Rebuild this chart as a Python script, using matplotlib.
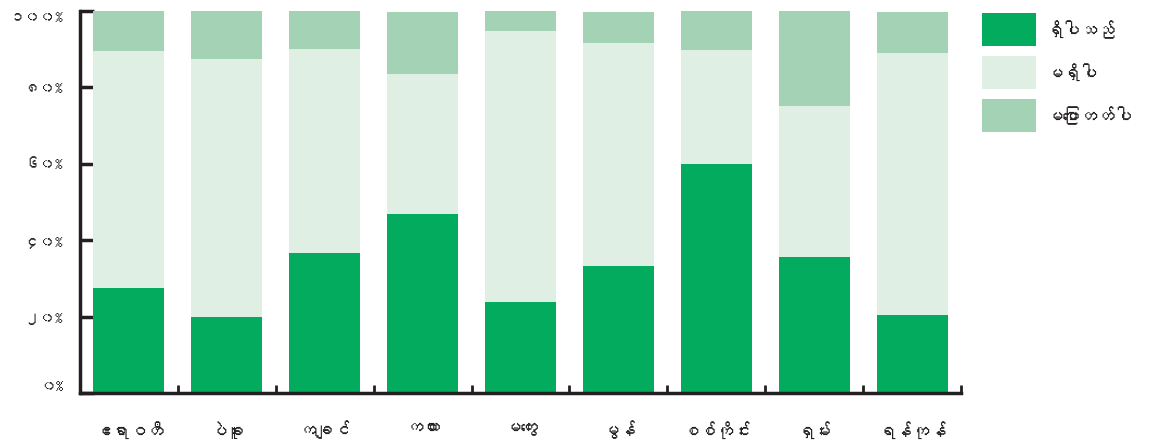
import matplotlib
matplotlib.use("Agg")
import matplotlib.pyplot as plt
from matplotlib import font_manager
from matplotlib.patches import Rectangle
import numpy as np

# data (percent of respondents)
regions = ["ဧရာဝတီ", "ပဲခူး", "ကချင်", "ကယား", "မကွေး", "မွန်", "စစ်ကိုင်း", "ရှမ်း", "ရန်ကုန်"]
series_names = ["ရှိပါသည်", "မရှိပါ", "မပြောတတ်ပါ"]
yes_vals = [27.5, 20.0, 36.6, 46.9, 23.8, 33.2, 59.9, 35.6, 20.4]
no_vals = [62.0, 67.4, 53.5, 36.6, 71.0, 58.4, 29.9, 39.5, 68.6]
dk_vals = [10.5, 12.6, 9.9, 16.2, 5.2, 8.1, 10.2, 24.9, 10.7]
yticks = [0, 20, 40, 60, 80, 100]
ytick_labels = ["၀%", "၂၀%", "၄၀%", "၆၀%", "၈၀%", "၁၀၀%"]

colors = ["#02ab5e", "#e0efe4", "#a3d3b4"]
ink = "#231f20"


def find_myanmar_font():
    # look for any installed font that has Myanmar glyphs
    from matplotlib.ft2font import FT2Font
    for f in font_manager.fontManager.ttflist:
        try:
            ft = FT2Font(f.fname)
            if ft.get_char_index(ord("က")):
                return f.name
        except Exception:
            pass
    return None


my_font = find_myanmar_font()
fam = [my_font, "DejaVu Sans"] if my_font else ["DejaVu Sans"]
plt.rcParams["font.family"] = fam

W, H = 1157, 447
fig = plt.figure(figsize=(W / 100, H / 100), dpi=100)
ax = fig.add_axes([80 / W, 54 / H, 881 / W, 382 / H])

x = np.arange(len(regions))
w = 0.726
yes = np.array(yes_vals)
no = np.array(no_vals)
dk = np.array(dk_vals)
ax.bar(x, yes, w, color=colors[0], zorder=2)
ax.bar(x, no, w, bottom=yes, color=colors[1], zorder=2)
ax.bar(x, dk, w, bottom=yes + no, color=colors[2], zorder=2)

ax.set_xlim(-0.5, len(regions) - 0.5)
ax.set_ylim(0, 100)

for s in ["top", "right"]:
    ax.spines[s].set_visible(False)
for s in ["left", "bottom"]:
    ax.spines[s].set_linewidth(2.5)
    ax.spines[s].set_color(ink)
    ax.spines[s].set_zorder(3)

ax.set_yticks(yticks)
ax.set_yticklabels(ytick_labels)
ax.tick_params(axis="y", direction="in", length=10, width=2.5, color=ink,
               labelsize=11, pad=12.5, labelcolor=ink)
lbls = ax.get_yticklabels()
lbls[0].set_verticalalignment("bottom")
lbls[-1].set_verticalalignment("top")

ax.set_xticks(x)
ax.set_xticklabels(regions)
ax.tick_params(axis="x", length=0, labelsize=12.5, pad=20, labelcolor=ink)
ax.set_xticks(list(x[:-1] + 0.5) + [len(regions) - 0.5], minor=True)
ax.tick_params(axis="x", which="minor", direction="in", length=6, width=2, color=ink)

# legend drawn by hand: swatches 54x33 px, 43 px apart
for i, (c, name) in enumerate(zip(colors, series_names)):
    top = 13 + 43 * i
    fig.patches.append(Rectangle((982 / W, 1 - (top + 33) / H), 54 / W, 33 / H,
                                 transform=fig.transFigure, facecolor=c,
                                 edgecolor="none"))
    fig.text(1045 / W, 1 - (top + 16.5) / H, name, fontsize=12.5, color=ink,
             ha="left", va="center")

fig.savefig("out.png", dpi=100)
